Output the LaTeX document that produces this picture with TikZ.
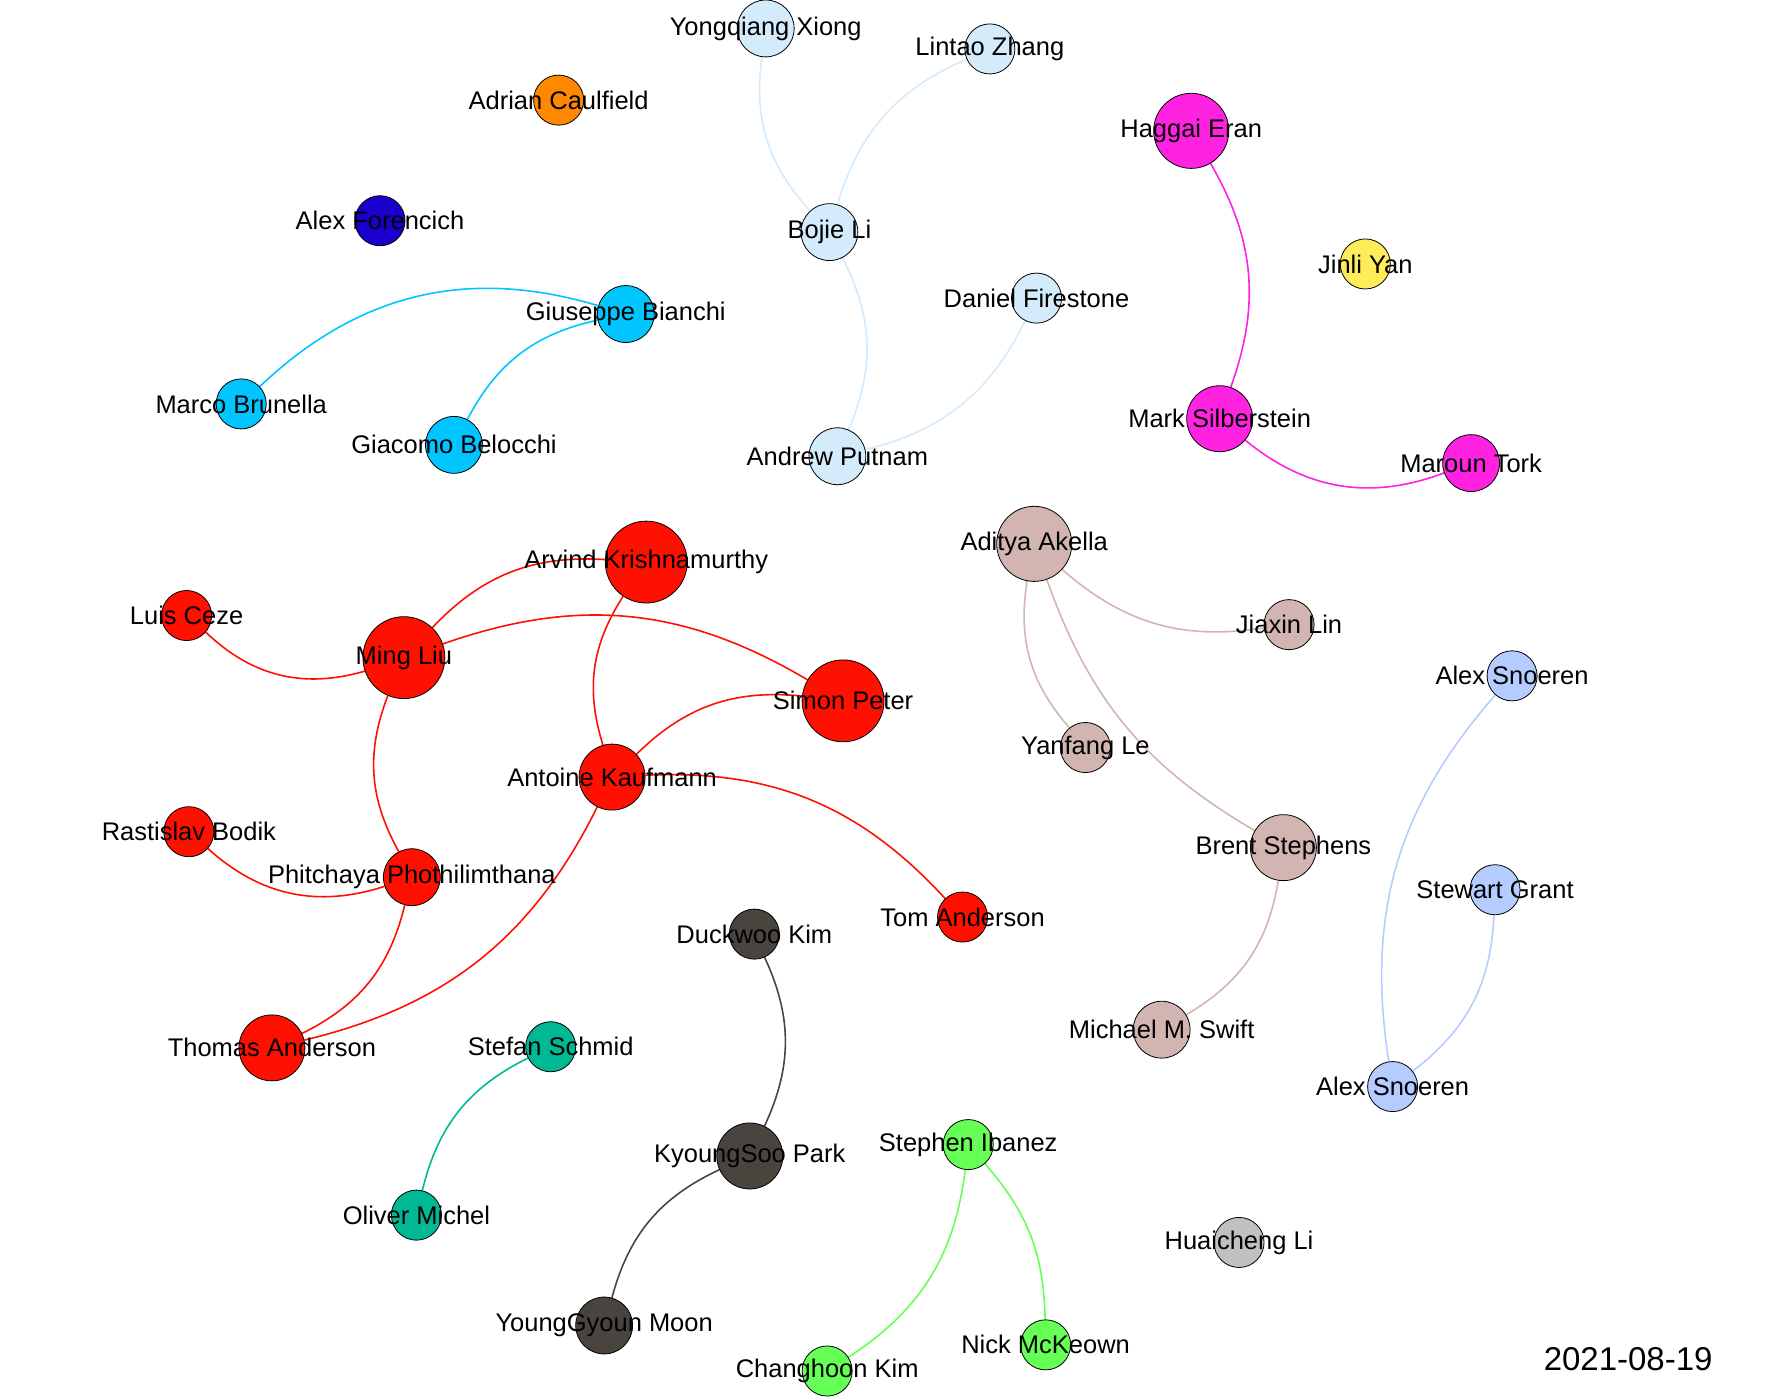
\documentclass[tikz,border=0pt]{standalone}
\usepackage{fontspec}
\setmainfont{Liberation Sans}
\usetikzlibrary{
    arrows.meta,
    backgrounds
}
\definecolor{lblue}{RGB}{212,235,252}
\definecolor{orng}{RGB}{255,136,0}
\definecolor{dblue}{RGB}{26,0,204}
\definecolor{skyc}{RGB}{0,197,255}
\definecolor{mgnt}{RGB}{255,34,224}
\definecolor{ylw}{RGB}{255,236,90}
\definecolor{redd}{RGB}{255,16,0}
\definecolor{rosy}{RGB}{210,180,176}
\definecolor{peri}{RGB}{180,204,255}
\definecolor{dkgr}{RGB}{74,68,62}
\definecolor{teal}{RGB}{0,184,148}
\definecolor{grn}{RGB}{102,255,85}
\definecolor{gry}{RGB}{192,192,192}

\begin{document}
\begin{tikzpicture}[
      x=1pt, y=-1pt,
      person/.style={circle, draw=black, line width=0.7pt, inner sep=0pt, minimum size=44pt},
      szb/.style={minimum size=50pt},
      szc/.style={minimum size=58pt},
      szd/.style={minimum size=66pt},
      sze/.style={minimum size=72pt},
      tag/.style={font=\fontsize{22.4}{26}\selectfont, inner sep=0pt},
      link/.style={line width=1.4pt}]
    \useasboundingbox (0,0) rectangle (1568,1229);
    % upper left
    \node[person, szb, fill=lblue, label={[tag]center:Yongqiang Xiong}] (yxiong) at (673,25) {};
    \node[person, fill=lblue, label={[tag]center:Lintao Zhang}] (lzhang) at (870,43) {};
    \node[person, fill=orng, label={[tag]center:Adrian Caulfield}] (acaulfield) at (491,88) {};
    \node[person, fill=dblue, label={[tag]center:Alex Forencich}] (aforencich) at (334,194) {};
    \node[person, szb, fill=lblue, label={[tag]center:Bojie Li}] (bli) at (729,204) {};
    \node[person, fill=lblue, label={[tag]center:Daniel Firestone}] (dfirestone) at (911,262) {};
    \node[person, szb, fill=lblue, label={[tag]center:Andrew Putnam}] (aputnam) at (736,401) {};
    \node[person, szb, fill=skyc, label={[tag]center:Giuseppe Bianchi}] (gbianchi) at (550,276) {};
    \node[person, fill=skyc, label={[tag]center:Marco Brunella}] (mbrunella) at (212,355) {};
    \node[person, szb, fill=skyc, label={[tag]center:Giacomo Belocchi}] (gbelocchi) at (399,391) {};
    % upper right
    \node[person, szd, fill=mgnt, label={[tag]center:Haggai Eran}] (heran) at (1047,115) {};
    \node[person, fill=ylw, label={[tag]center:Jinli Yan}] (jyan) at (1200,232) {};
    \node[person, szc, fill=mgnt, label={[tag]center:Mark Silberstein}] (msilberstein) at (1072,368) {};
    \node[person, szb, fill=mgnt, label={[tag]center:Maroun Tork}] (mtork) at (1293,407) {};
    % red group
    \node[person, sze, fill=redd, label={[tag]center:Arvind Krishnamurthy}] (akrishna) at (568,494) {};
    \node[person, fill=redd, label={[tag]center:Luis Ceze}] (lceze) at (164,541) {};
    \node[person, sze, fill=redd, label={[tag]center:Ming Liu}] (mliu) at (355,578) {};
    \node[person, sze, fill=redd, label={[tag]center:Simon Peter}] (speter) at (741,616) {};
    \node[person, szc, fill=redd, label={[tag]center:Antoine Kaufmann}] (akaufmann) at (538,683) {};
    \node[person, fill=redd, label={[tag]center:Rastislav Bodik}] (rbodik) at (166,731) {};
    \node[person, szb, fill=redd, label={[tag]center:Phitchaya Phothilimthana}] (pphoth) at (362,771) {};
    \node[person, fill=redd, label={[tag]center:Tom Anderson}] (tanderson) at (846,806) {};
    \node[person, szc, fill=redd, label={[tag]center:Thomas Anderson}] (thanderson) at (239,921) {};
    % rosy group
    \node[person, szd, fill=rosy, label={[tag]center:Aditya Akella}] (aakella) at (909,478) {};
    \node[person, fill=rosy, label={[tag]center:Jiaxin Lin}] (jlin) at (1133,549) {};
    \node[person, fill=rosy, label={[tag]center:Yanfang Le}] (yle) at (954,657) {};
    \node[person, szc, fill=rosy, label={[tag]center:Brent Stephens}] (bstephens) at (1128,745) {};
    \node[person, szb, fill=rosy, label={[tag]center:Michael M. Swift}] (mswift) at (1021,905) {};
    % right
    \node[person, fill=peri, label={[tag]center:Alex Snoeren}] (asnoerena) at (1329,594) {};
    \node[person, fill=peri, label={[tag]center:Stewart Grant}] (sgrant) at (1314,782) {};
    \node[person, fill=peri, label={[tag]center:Alex Snoeren}] (asnoerenb) at (1224,955) {};
    % bottom
    \node[person, fill=dkgr, label={[tag]center:Duckwoo Kim}] (dkim) at (663,821) {};
    \node[person, szc, fill=dkgr, label={[tag]center:KyoungSoo Park}] (kpark) at (659,1016) {};
    \node[person, szb, fill=dkgr, label={[tag]center:YoungGyoun Moon}] (ymoon) at (531,1165) {};
    \node[person, fill=teal, label={[tag]center:Stefan Schmid}] (sschmid) at (484,920) {};
    \node[person, fill=teal, label={[tag]center:Oliver Michel}] (omichel) at (366,1068) {};
    \node[person, fill=grn, label={[tag]center:Stephen Ibanez}] (sibanez) at (851,1006) {};
    \node[person, fill=grn, label={[tag]center:Nick McKeown}] (nmckeown) at (919,1182) {};
    \node[person, fill=grn, label={[tag]center:Changhoon Kim}] (ckim) at (727,1205) {};
    \node[person, fill=gry, label={[tag]center:Huaicheng Li}] (hli) at (1089,1092) {};
    \node[font=\fontsize{29}{34}\selectfont, inner sep=0pt] (date) at (1431,1195) {2021-08-19};
    \begin{pgfonlayer}{background}
    \draw[link, lblue] (yxiong) to[bend right=25] (bli);
    \draw[link, lblue] (lzhang) to[bend right=25] (bli);
    \draw[link, lblue] (bli) to[bend left=25] (aputnam);
    \draw[link, lblue] (dfirestone) to[bend left=25] (aputnam);
    \draw[link, skyc] (gbianchi) to[bend right=30] (mbrunella);
    \draw[link, skyc] (gbianchi) to[bend right=25] (gbelocchi);
    \draw[link, mgnt] (heran) to[bend left=25] (msilberstein);
    \draw[link, mgnt] (msilberstein) to[bend right=30] (mtork);
    \draw[link, redd] (lceze) to[bend right=30] (mliu);
    \draw[link, redd] (mliu) to[bend left=25] (akrishna);
    \draw[link, redd] (mliu) to[bend left=25] (speter);
    \draw[link, redd] (akrishna) to[bend right=25] (akaufmann);
    \draw[link, redd] (speter) to[bend right=25] (akaufmann);
    \draw[link, redd] (akaufmann) to[bend left=25] (tanderson);
    \draw[link, redd] (mliu) to[bend right=25] (pphoth);
    \draw[link, redd] (rbodik) to[bend right=30] (pphoth);
    \draw[link, redd] (pphoth) to[bend left=25] (thanderson);
    \draw[link, redd] (akaufmann) to[bend left=25] (thanderson);
    \draw[link, rosy] (aakella) to[bend right=25] (jlin);
    \draw[link, rosy] (aakella) to[bend right=25] (yle);
    \draw[link, rosy] (aakella) to[bend right=20] (bstephens);
    \draw[link, rosy] (bstephens) to[bend left=25] (mswift);
    \draw[link, peri] (asnoerena) to[bend right=25] (asnoerenb);
    \draw[link, peri] (sgrant) to[bend left=25] (asnoerenb);
    \draw[link, dkgr] (dkim) to[bend left=25] (kpark);
    \draw[link, teal] (sschmid) to[bend right=25] (omichel);
    \draw[link, dkgr] (kpark) to[bend right=25] (ymoon);
    \draw[link, grn] (sibanez) to[bend left=25] (ckim);
    \draw[link, grn] (sibanez) to[bend left=20] (nmckeown);
    \end{pgfonlayer}
\end{tikzpicture}
\end{document}
